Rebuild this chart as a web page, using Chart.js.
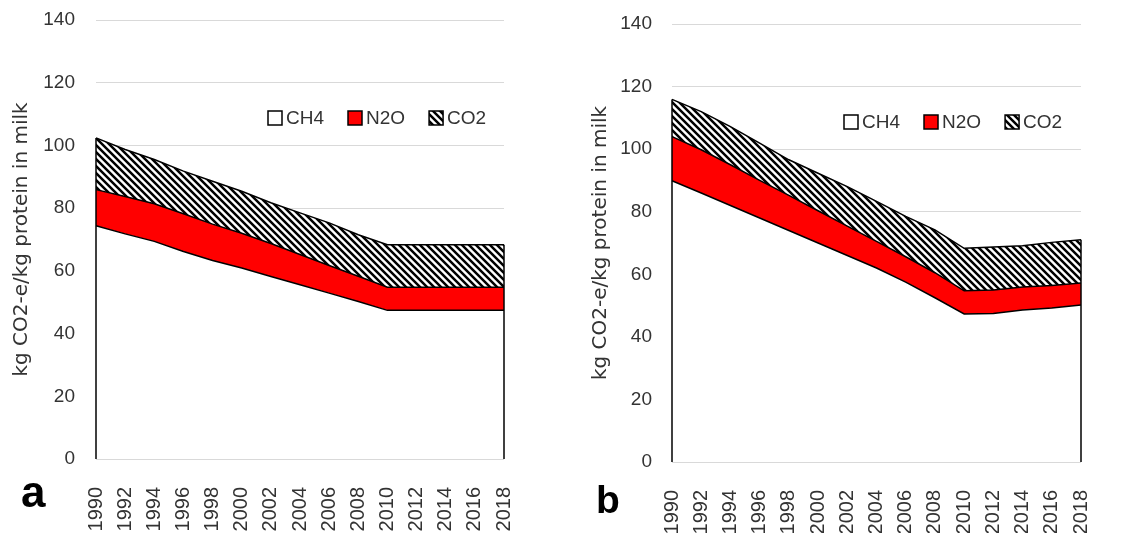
<!DOCTYPE html>
<html>
<head>
<meta charset="utf-8">
<script src="https://cdn.jsdelivr.net/npm/chart.js@4.4.1/dist/chart.umd.min.js"></script>
<style>
  body { margin: 0; background: #fff; }
  #wrap { position: relative; width: 1142px; height: 533px; }
  #wrap canvas { position: absolute; top: 0; }
  .tag { position: absolute; font-family: "Liberation Sans", Arial, sans-serif; font-weight: bold; color: #000; line-height: 1; }
</style>
</head>
<body>
<div id="wrap">
  <canvas id="chartA" width="570" height="533" style="left:0"></canvas>
  <canvas id="chartB" width="572" height="533" style="left:570px"></canvas>
  <div class="tag" style="left:21px;top:470px;font-size:44px">a</div>
  <div class="tag" style="left:596px;top:480px;font-size:39px">b</div>
</div>
<script>
const years = ['1990', '1992', '1994', '1996', '1998', '2000', '2002', '2004', '2006', '2008', '2010', '2012', '2014', '2016', '2018'];
const gasNames = ['CH4', 'N2O', 'CO2'];
const yTicks = [0, 20, 40, 60, 80, 100, 120, 140];
const yTitle = 'kg CO2-e/kg protein in milk';

// panel a
const ch4A = [74.4, 71.8, 69.4, 66.2, 63.3, 60.9, 58.2, 55.6, 52.9, 50.2, 47.4, 47.4, 47.4, 47.4, 47.4];
const n2oA = [11.5, 11.9, 12.0, 12.0, 11.6, 11.1, 10.5, 9.6, 8.8, 8.1, 7.4, 7.4, 7.4, 7.4, 7.4];
const co2A = [16.5, 15.0, 14.1, 13.6, 13.7, 13.4, 13.0, 13.3, 13.6, 13.2, 13.5, 13.5, 13.5, 13.5, 13.5];

// panel b
const ch4B = [89.9, 86.0, 82.0, 78.0, 74.0, 70.0, 66.0, 62.0, 57.5, 52.5, 47.3, 47.5, 48.6, 49.2, 50.2];
const n2oB = [14.1, 13.8, 13.0, 12.0, 11.2, 10.3, 9.4, 8.5, 8.1, 8.0, 7.4, 7.5, 7.3, 7.2, 7.0];
const co2B = [11.9, 12.2, 12.2, 11.9, 11.4, 12.0, 12.6, 12.8, 12.9, 13.7, 13.6, 13.7, 13.2, 13.8, 13.8];

const FONT = '"Liberation Sans", Arial, sans-serif';
const TXT = '#333333';

// hachures "\\\\" pour le CO2
function hatch() {
  const s = 7;
  const c = document.createElement('canvas');
  c.width = s; c.height = s;
  const g = c.getContext('2d');
  g.fillStyle = '#fff';
  g.fillRect(0, 0, s, s);
  g.strokeStyle = '#000';
  g.lineWidth = 2.5;
  g.beginPath();
  for (let k = -1; k <= 1; k++) {
    g.moveTo(-s, -s + k * s);
    g.lineTo(2 * s, 2 * s + k * s);
  }
  g.stroke();
  return g.createPattern(c, 'repeat');
}

// bords verticaux de l'aire empilée (1990 et 2018)
const edges = {
  id: 'edges',
  afterDatasetsDraw(chart) {
    const { ctx, scales: { x, y } } = chart;
    const n = chart.data.labels.length;
    ctx.save();
    ctx.strokeStyle = '#000';
    ctx.lineWidth = 1.5;
    [0, n - 1].forEach(i => {
      const tot = chart.data.datasets.reduce((s, d) => s + d.data[i], 0);
      const px = x.getPixelForValue(i);
      ctx.beginPath();
      ctx.moveTo(px, y.getPixelForValue(0));
      ctx.lineTo(px, y.getPixelForValue(tot));
      ctx.stroke();
    });
    ctx.restore();
  }
};

// légende dans la zone du graphique
const inLegend = {
  id: 'inLegend',
  afterDraw(chart) {
    const { ctx, chartArea } = chart;
    let px = chartArea.left + 172;
    const cy = chartArea.top + 98;
    const box = 14;
    ctx.save();
    ctx.font = '19px ' + FONT;
    ctx.textBaseline = 'middle';
    chart.data.datasets.forEach(d => {
      ctx.fillStyle = d.backgroundColor;
      ctx.fillRect(px, cy - box / 2, box, box);
      ctx.strokeStyle = '#000';
      ctx.lineWidth = 1.5;
      ctx.strokeRect(px, cy - box / 2, box, box);
      ctx.fillStyle = TXT;
      ctx.fillText(d.label, px + box + 4, cy + 1);
      px += box + 4 + ctx.measureText(d.label).width + 24;
    });
    ctx.restore();
  }
};

function makeChart(id, ch4, n2o, co2, lay) {
  const vals = [ch4, n2o, co2];
  const fills = ['#ffffff', '#ff0000', hatch()];
  new Chart(document.getElementById(id), {
    type: 'line',
    data: {
      labels: years,
      datasets: gasNames.map((name, i) => ({
        label: name,
        data: vals[i],
        backgroundColor: fills[i],
        borderColor: '#000',
        borderWidth: 1.5,
        pointRadius: 0,
        tension: 0,
        fill: i === 0 ? 'origin' : '-1'
      }))
    },
    options: {
      responsive: false,
      animation: false,
      events: [],
      layout: { padding: { left: 0, right: lay.right, top: lay.top, bottom: 0 } },
      plugins: { legend: { display: false }, tooltip: { enabled: false } },
      scales: {
        x: {
          grid: { display: false },
          border: { display: false },
          ticks: { autoSkip: false, maxRotation: 90, minRotation: 90, padding: 20, color: TXT, font: { family: FONT, size: 20 } },
          afterFit: s => { s.height = lay.axisH; }
        },
        y: {
          stacked: true,
          min: yTicks[0],
          max: yTicks[yTicks.length - 1],
          afterBuildTicks: s => { s.ticks = yTicks.map(v => ({ value: v })); },
          grid: { color: '#d9d9d9', drawTicks: false },
          border: { display: false },
          ticks: { padding: lay.tickPad, color: TXT, font: { family: FONT, size: 19 } },
          title: { display: true, text: yTitle, color: TXT, padding: { top: lay.titlePad }, font: { family: '"DejaVu Sans", sans-serif', size: 20 } },
          afterFit: s => { s.width = lay.axisW; s.paddingTop = 0; s.paddingBottom = 0; }
        }
      }
    },
    plugins: [edges, inLegend]
  });
}

makeChart('chartA', ch4A, n2oA, co2A, { axisW: 96, axisH: 74, top: 20, right: 66, tickPad: 21, titlePad: 10 });
makeChart('chartB', ch4B, n2oB, co2B, { axisW: 102, axisH: 71, top: 24, right: 61, tickPad: 20, titlePad: 19 });
</script>
</body>
</html>
